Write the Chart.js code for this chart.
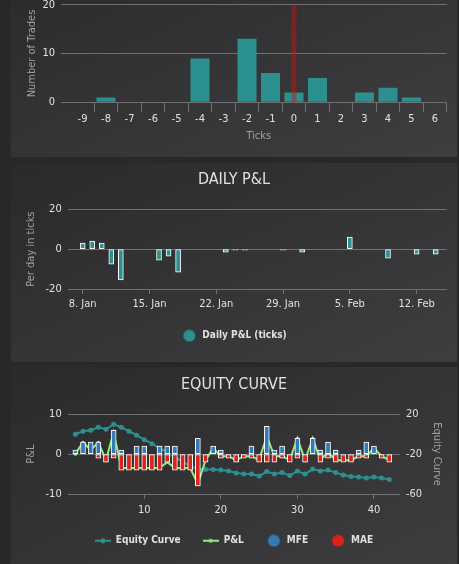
<!DOCTYPE html>
<html><head><meta charset="utf-8">
<script src="https://cdn.jsdelivr.net/npm/chart.js@4.4.1/dist/chart.umd.min.js"></script>
<style>
html,body{margin:0;padding:0;background:#27282a;width:459px;height:564px;overflow:hidden}
.panel{position:absolute;left:11px;width:446px;background:linear-gradient(to bottom right,#2a2a2b,#3e3e40)}
canvas{position:absolute;left:0}
</style></head><body>
<div class="panel" style="top:-42px;height:199px"><canvas id="hist" width="446" height="157" style="top:42px"></canvas></div>
<div class="panel" style="top:163px;height:199px"><canvas id="daily" width="446" height="199" style="top:0"></canvas></div>
<div class="panel" style="top:367px;height:210px"><canvas id="equity" width="446" height="197" style="top:0"></canvas></div>
<script>
// ---- data ----
const histCategories = ['-9','-8','-7','-6','-5','-4','-3','-2','-1','0','1','2','3','4','5','6'];
const histCounts = [0,1,0,0,0,9,0,13,6,2,5,0,2,3,1,0];
const histMarker = '0';

// day of year (1 = 1 Jan)
const dailyDays = [8,9,10,11,12,16,17,18,23,24,25,29,31,36,40,43,45];
const dailyPnl  = [3,4,3,-7.5,-15.5,-5.5,-3.5,-11.5,-1.5,-0.5,-0.5,-0.5,-1.5,6,-4.5,-2.5,-2.5];
const dateTickDays   = [8,15,22,29,36,43];
const dateTickLabels = ['8. Jan','15. Jan','22. Jan','29. Jan','5. Feb','12. Feb'];

const tradeNo = [1,2,3,4,5,6,7,8,9,10,11,12,13,14,15,16,17,18,19,20,21,22,23,24,25,26,27,28,29,30,31,32,33,34,35,36,37,38,39,40,41,42];
const equityCurve = [0,3,4,7,5,10,7,3,-1,-5.5,-9.5,-14,-18,-23,-27.5,-32,-35,-35.5,-35.5,-36,-37,-39,-40,-40,-42,-37.5,-40,-38.5,-41.5,-37,-40,-35,-37,-36,-38.5,-41,-42.5,-43,-44,-43,-44,-45.5];
const tradePnl = [0,3,1,3,-1.5,5.5,-3.5,-3.5,-3.5,-3.5,-3.5,-3.5,-2,-3.5,-3.5,-3.5,-7.5,-1.5,1.5,-0.5,-0.5,-1.5,-0.5,-0.5,-1.5,4.5,-0.5,-0.5,-1.5,4,-1.5,4,-1.5,0.5,-1.5,-1.5,-1.5,-0.5,-0.5,1.5,-0.5,-1.5];
const mfe = [1,3,3,3,null,6,1,null,2,2,null,2,2,2,null,null,4,null,2,1,null,null,null,2,null,7,1,2,null,4,null,4,1,3,1,null,null,1,3,2,null,null];
const mae = [null,null,null,-1,-2,-1,-4,-4,-4,-4,-4,-4,-2,-4,-4,-4,-8,-2,null,-1,-1,-2,-1,-1,-2,-2,-2,-1,-2,-1,-2,null,-2,-1,-2,-2,-2,-1,-1,null,-1,-2];
const tradeTicks = [10,20,30,40];

// ---- style ----
const FONT = "'Liberation Sans Narrow','DejaVu Sans Condensed','Roboto Condensed',sans-serif";
Chart.defaults.font.family = FONT;
Chart.defaults.color = '#E0E0E3';
Chart.defaults.animation = false;
Chart.defaults.plugins.tooltip.enabled = false;
const LABEL = '#E0E0E3', AXIS_TITLE = '#A0A0A3', GRID = '#707073';
const TEAL = '#2b908f', GREEN = '#90ee7e', BLUE = '#337ab7', RED = '#d9231b';

function fixWidth(w){ return s => { s.width = w; s.paddingTop = 0; s.paddingBottom = 0; }; }
function fixHeight(h){ return s => { s.height = h; s.paddingLeft = 0; s.paddingRight = 0; }; }
function xy(xs, ys){ return xs.map((x, i) => ({x: x, y: ys[i]})); }

function circleSym(color){
  const c = document.createElement('canvas'); c.width = 16; c.height = 13;
  const g = c.getContext('2d'); g.fillStyle = color; g.beginPath(); g.arc(8, 6.5, 6, 0, Math.PI*2); g.fill();
  return c;
}
function lineSym(color, r){
  const c = document.createElement('canvas'); c.width = 16; c.height = 8;
  const g = c.getContext('2d'); g.strokeStyle = color; g.lineWidth = 2;
  g.beginPath(); g.moveTo(0, 4); g.lineTo(16, 4); g.stroke();
  g.fillStyle = color; g.beginPath(); g.arc(8, 4, r, 0, Math.PI*2); g.fill();
  return c;
}
function withSymbols(symbols){
  return chart => {
    const items = Chart.defaults.plugins.legend.labels.generateLabels(chart);
    items.forEach(it => { it.pointStyle = symbols[it.datasetIndex]; });
    return items;
  };
}

const markerLine = {
  id: 'markerLine',
  afterDatasetsDraw(chart){
    const x = chart.scales.x.getPixelForValue(histCategories.indexOf(histMarker));
    const {top, bottom} = chart.chartArea;
    const ctx = chart.ctx;
    ctx.save(); ctx.fillStyle = 'rgba(200,20,20,0.45)';
    ctx.fillRect(x - 2.5, top, 5, bottom - top); ctx.restore();
  }
};

// ---- histogram ----
new Chart(document.getElementById('hist'), {
  type: 'bar',
  data: { labels: histCategories, datasets: [{ label: 'Number of Trades', data: histCounts, backgroundColor: TEAL, borderWidth: 0, categoryPercentage: 0.9, barPercentage: 0.9 }] },
  options: {
    responsive: false,
    layout: { autoPadding: false, padding: { top: 4.7, right: 10.3, bottom: 0, left: 0 } },
    plugins: { legend: { display: false }, title: { display: false } },
    scales: {
      x: {
        grid: { offset: true, drawOnChartArea: false, drawTicks: true, tickLength: 10, tickColor: c => c.index === 0 ? 'rgba(0,0,0,0)' : GRID },
        border: { display: false },
        ticks: { color: LABEL, font: { size: 11 }, padding: 0, maxRotation: 0, autoSkip: false },
        title: { display: true, text: 'Ticks', color: AXIS_TITLE, font: { size: 11 }, padding: { top: 0, bottom: 14.1 } },
        afterFit: fixHeight(54.7)
      },
      y: {
        min: 0, max: 20,
        ticks: { stepSize: 10, color: LABEL, font: { size: 11 }, padding: 5.8 },
        grid: { color: GRID, drawTicks: true, tickLength: 10, tickColor: GRID },
        border: { display: false },
        title: { display: true, text: 'Number of Trades', color: AXIS_TITLE, font: { size: 11 }, padding: { top: 14.4, bottom: 0 } },
        afterFit: fixWidth(59.8)
      }
    }
  },
  plugins: [markerLine]
});

// ---- daily P&L ----
new Chart(document.getElementById('daily'), {
  type: 'bar',
  data: { datasets: [{ label: 'Daily P&L (ticks)', data: xy(dailyDays, dailyPnl), backgroundColor: TEAL, borderColor: '#ffffff', borderWidth: 1, borderSkipped: false, barThickness: 5 }] },
  options: {
    responsive: false,
    layout: { autoPadding: false, padding: { top: 0, right: 10.3, bottom: 11.3, left: 10.3 } },
    plugins: {
      title: { display: true, text: 'DAILY P&L', color: LABEL, font: { size: 16, weight: 'normal' }, padding: { top: 7.4, bottom: 19.7 } },
      legend: { position: 'bottom', labels: { color: LABEL, font: { size: 10, weight: 'bold' }, usePointStyle: true, pointStyleWidth: 16, padding: 10, generateLabels: withSymbols([circleSym(TEAL)]) } }
    },
    scales: {
      x: {
        type: 'linear', offset: false, min: 6.43, max: 46.15,
        afterBuildTicks: s => { s.ticks = dateTickDays.map(v => ({ value: v })); },
        ticks: { callback: v => dateTickLabels[dateTickDays.indexOf(v)], color: LABEL, font: { size: 11 }, padding: 3.7, maxRotation: 0, autoSkip: false },
        grid: { offset: false, drawOnChartArea: false, drawTicks: true, tickLength: 5, tickColor: GRID },
        border: { display: false },
        afterFit: fixHeight(31.7)
      },
      y: {
        min: -20, max: 20,
        ticks: { stepSize: 20, color: LABEL, font: { size: 11 }, padding: 6 },
        grid: { color: GRID, drawTicks: false },
        border: { display: false },
        title: { display: true, text: 'Per day in ticks', color: AXIS_TITLE, font: { size: 11 }, padding: { top: 3.1, bottom: 0 } },
        afterFit: fixWidth(46.4)
      }
    }
  }
});

// ---- equity curve ----
new Chart(document.getElementById('equity'), {
  type: 'bar',
  data: { datasets: [
    { type: 'line', label: 'Equity Curve', data: xy(tradeNo, equityCurve), yAxisID: 'y2', borderColor: TEAL, backgroundColor: TEAL, borderWidth: 2, pointRadius: 2.5, pointBorderWidth: 0, pointBackgroundColor: TEAL, tension: 0, order: 3 },
    { type: 'line', label: 'P&L', data: xy(tradeNo, tradePnl), yAxisID: 'y', borderColor: GREEN, backgroundColor: GREEN, borderWidth: 2, pointRadius: 1.5, pointBorderWidth: 0, pointBackgroundColor: GREEN, tension: 0, order: 2 },
    { label: 'MFE', data: xy(tradeNo, mfe), yAxisID: 'y', backgroundColor: BLUE, borderColor: '#ffffff', borderWidth: 1, borderSkipped: false, barThickness: 5, grouped: false, order: 1 },
    { label: 'MAE', data: xy(tradeNo, mae), yAxisID: 'y', backgroundColor: RED, borderColor: '#ffffff', borderWidth: 1, borderSkipped: false, barThickness: 5, grouped: false, order: 0 }
  ]},
  options: {
    responsive: false,
    layout: { autoPadding: false, padding: { top: 0, right: 0, bottom: 8.3, left: 0 } },
    plugins: {
      title: { display: true, text: 'EQUITY CURVE', color: LABEL, font: { size: 16, weight: 'normal' }, padding: { top: 8.7, bottom: 19.4 } },
      legend: { position: 'bottom', labels: { color: LABEL, font: { size: 10, weight: 'bold' }, usePointStyle: true, pointStyleWidth: 16, padding: 22,
        sort: (a, b) => a.datasetIndex - b.datasetIndex,
        generateLabels: withSymbols([lineSym(TEAL, 2.5), lineSym(GREEN, 2), circleSym(BLUE), circleSym(RED)]) } }
    },
    scales: {
      x: {
        type: 'linear', offset: false, min: 0, max: 43.4,
        afterBuildTicks: s => { s.ticks = tradeTicks.map(v => ({ value: v })); },
        ticks: { color: LABEL, font: { size: 11 }, padding: 4.4, maxRotation: 0, autoSkip: false },
        grid: { offset: false, drawOnChartArea: false, drawTicks: true, tickLength: 5, tickColor: GRID },
        border: { display: false },
        afterFit: fixHeight(19.7)
      },
      y: {
        position: 'left', min: -10, max: 10,
        ticks: { stepSize: 10, color: LABEL, font: { size: 11 }, padding: 6 },
        grid: { color: GRID, drawTicks: false },
        border: { display: false },
        title: { display: true, text: 'P&L', color: AXIS_TITLE, font: { size: 11 }, padding: { top: 13.4, bottom: 0 } },
        afterFit: fixWidth(56.7)
      },
      y2: {
        position: 'right', min: -60, max: 20,
        ticks: { stepSize: 40, color: LABEL, font: { size: 11 }, padding: 6 },
        grid: { drawOnChartArea: false, drawTicks: false },
        border: { display: false },
        title: { display: true, text: 'Equity Curve', color: AXIS_TITLE, font: { size: 11 }, padding: { top: 13.7, bottom: 0 } },
        afterFit: fixWidth(57)
      }
    }
  }
});
</script></body></html>
